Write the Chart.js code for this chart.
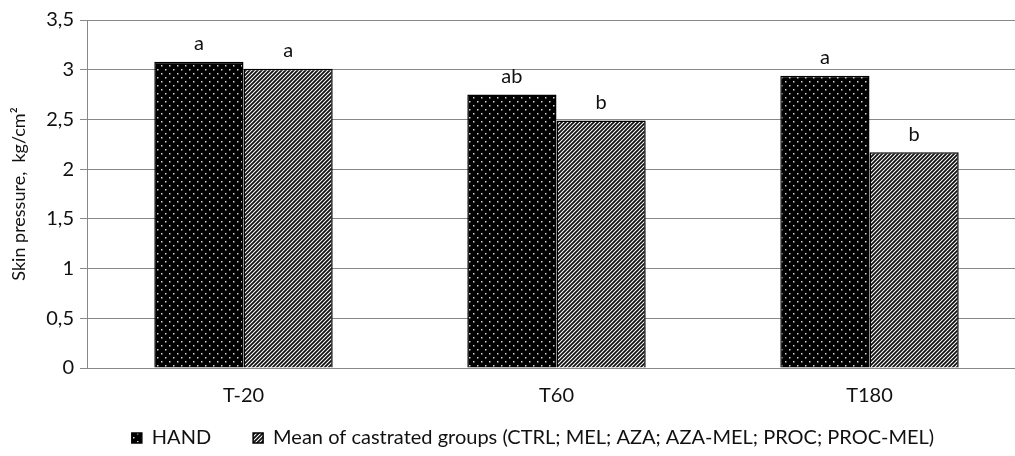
<!DOCTYPE html>
<html lang="en">
<head>
<meta charset="UTF-8" />
<title>Skin pressure</title>
<script src="https://cdn.jsdelivr.net/npm/chart.js"></script>
<style>
    html, body { margin: 0; padding: 0; background: #fff; overflow: hidden; }
    #wrap { width: 1030px; height: 456px; position: relative; }
</style>
</head>
<body>
<div id="wrap"><canvas id="chart"></canvas></div>
<script>
    const categories = ["T-20", "T60", "T180"];
    const handValues = [3.08, 2.75, 2.94];
    const meanValues = [3.01, 2.49, 2.17];
    const handLetters = ["a", "ab", "a"];
    const meanLetters = ["a", "b", "b"];
    const seriesNames = ["HAND", "Mean of castrated groups (CTRL; MEL; AZA; AZA-MEL; PROC; PROC-MEL)"];

    const FONT = "Lato, 'Liberation Sans', sans-serif";

    // black with white staggered dots
    function dotPattern() {
        const c = document.createElement("canvas");
        c.width = 8; c.height = 8;
        const g = c.getContext("2d");
        g.fillStyle = "#000";
        g.fillRect(0, 0, 8, 8);
        g.fillStyle = "#d8d8d8";
        g.fillRect(1, 1, 1.5, 1.5);
        g.fillRect(5, 5, 1.5, 1.5);
        return g.createPattern(c, "repeat");
    }

    // fine diagonal hatch "/"
    function hatchPattern() {
        const s = 4;
        const c = document.createElement("canvas");
        c.width = s; c.height = s;
        const g = c.getContext("2d");
        g.fillStyle = "#fff";
        g.fillRect(0, 0, s, s);
        g.strokeStyle = "#111";
        g.lineWidth = 1.8;
        g.beginPath();
        g.moveTo(-1, s + 1); g.lineTo(s + 1, -1);
        g.moveTo(-1, 1); g.lineTo(1, -1);
        g.moveTo(s - 1, s + 1); g.lineTo(s + 1, s - 1);
        g.stroke();
        return g.createPattern(c, "repeat");
    }

    // significance letters above the bars
    const lettersPlugin = {
        id: "letters",
        afterDatasetsDraw(chart) {
            const ctx = chart.ctx;
            const sets = [handLetters, meanLetters];
            ctx.save();
            ctx.font = "20px " + FONT;
            ctx.fillStyle = "#111";
            ctx.textAlign = "center";
            ctx.textBaseline = "bottom";
            sets.forEach((letters, di) => {
                chart.getDatasetMeta(di).data.forEach((bar, i) => {
                    ctx.fillText(letters[i], bar.x, bar.y - 8);
                });
            });
            ctx.restore();
        }
    };

    // move legend to where the original has it
    const legendShift = {
        id: "legendShift",
        afterLayout(chart) {
            const lg = chart.legend;
            lg.left += 20;
            lg.right += 20;
            lg.top = 386;
            lg.bottom = 456;
            lg.height = 70;
        }
    };

    new Chart(document.getElementById("chart"), {
        type: "bar",
        data: {
            labels: categories,
            datasets: [
                {
                    label: seriesNames[0],
                    data: handValues,
                    backgroundColor: dotPattern(),
                    borderColor: "#000",
                    borderWidth: 1.5
                },
                {
                    label: seriesNames[1],
                    data: meanValues,
                    backgroundColor: hatchPattern(),
                    borderColor: "#000",
                    borderWidth: 1.5
                }
            ]
        },
        options: {
            responsive: true,
            maintainAspectRatio: false,
            animation: false,
            datasets: { bar: { categoryPercentage: 0.57, barPercentage: 1 } },
            layout: { padding: { top: 20, right: 4, left: 0, bottom: 16 } },
            plugins: {
                tooltip: { enabled: false },
                legend: {
                    position: "bottom",
                    maxHeight: 24,
                    labels: {
                        font: { family: FONT, size: 20 },
                        color: "#111",
                        boxWidth: 10,
                        boxHeight: 10,
                        padding: 42
                    }
                }
            },
            scales: {
                x: {
                    grid: { display: false },
                    border: { display: true, color: "#888", width: 1 },
                    ticks: { font: { family: FONT, size: 20 }, color: "#111", padding: 8 }
                },
                y: {
                    min: 0,
                    max: 3.5,
                    afterFit(scale) { scale.width = 87; },
                    ticks: {
                        stepSize: 0.5,
                        font: { family: FONT, size: 20 },
                        color: "#111",
                        padding: 6,
                        callback: v => String(v).replace(".", ",")
                    },
                    grid: { color: "#888", lineWidth: 1, tickLength: 7 },
                    border: { display: true, color: "#888", width: 1 },
                    title: {
                        display: true,
                        text: "Skin pressure,  kg/cm²",
                        font: { family: FONT, size: 18 },
                        color: "#111",
                        padding: { top: 8, bottom: 0 }
                    }
                }
            }
        },
        plugins: [lettersPlugin, legendShift]
    });
</script>
</body>
</html>
